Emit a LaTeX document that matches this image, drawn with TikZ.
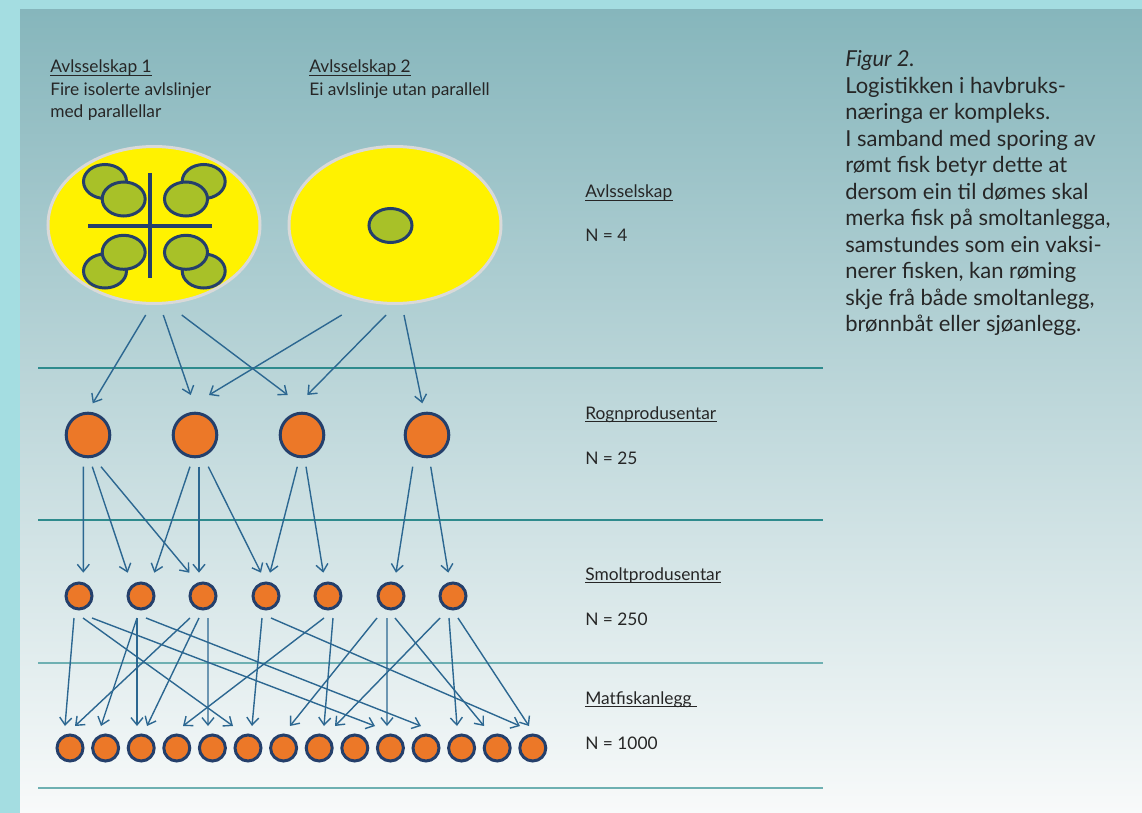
\documentclass[tikz,border=0pt]{standalone}
\usepackage{fontspec}
\setmainfont{Lato}
\usetikzlibrary{calc,arrows.meta,shapes.geometric}
\definecolor{outerbg}{HTML}{A4DDE1}
\definecolor{paneltop}{HTML}{86B6BC}
\definecolor{panelbot}{HTML}{F8FAFA}
\definecolor{sepdark}{HTML}{2E8B8D}
\definecolor{seplight}{HTML}{6EB0B2}
\definecolor{arrowblue}{HTML}{2C6791}
\definecolor{navy}{HTML}{243F6B}
\definecolor{orangefill}{HTML}{EC7828}
\definecolor{olivefill}{HTML}{A8C128}
\definecolor{ellborder}{HTML}{D9D9D9}
\definecolor{txt}{HTML}{262626}
\newcommand\smarrow[4]{\draw[arr] ($(s#1)+(#2,22)$) -- ($(m#3)+(#4,-22)$);}
\begin{document}
\begin{tikzpicture}[x=0.75pt,y=-0.75pt,
  arr/.style={draw=arrowblue, line width=1.05pt, -{Straight Barb[length=5.5pt,width=9pt]}},
  big/.style={ellipse, draw=ellborder, line width=2.25pt, fill=yellow, minimum width=159pt, minimum height=117.75pt, inner sep=0},
  egg/.style={ellipse, draw=navy, line width=2.25pt, fill=olivefill, minimum width=32.25pt, minimum height=25.5pt, inner sep=0},
  rogn/.style={circle, draw=navy, line width=2.25pt, fill=orangefill, minimum size=32.7pt, inner sep=0},
  dot/.style={circle, draw=navy, line width=2.25pt, fill=orangefill, minimum size=19.5pt, inner sep=0},
  toplbl/.style={anchor=base west, inner sep=0, text=txt, font=\fontsize{13pt}{15pt}\selectfont},
  lbl/.style={anchor=base west, inner sep=0, text=txt, font=\fontsize{13pt}{15pt}\selectfont},
  captxt/.style={anchor=base west, inner sep=0, text=txt, font=\fontsize{16.5pt}{19pt}\selectfont},
  uline/.style={draw=txt, line width=0.9pt},
  sepline/.style={line width=1.1pt}
]
\useasboundingbox (0,0) rectangle (1142,813);
\fill[outerbg] (0,0) rectangle (1142,813);
\shade[top color=paneltop, bottom color=panelbot] (20,10) rectangle (1142,813);

% separators
\draw[sepline, sepdark] (38,368) -- (823,368);
\draw[sepline, sepdark] (38,520) -- (823,520);
\draw[sepline, seplight] (38,663) -- (823,663);
\draw[sepline, seplight] (38,788) -- (823,788);

% breeding companies
\node[big] (e1) at (154,225) {};
\node[big] (e2) at (395,225) {};
\node[egg] (b1) at (105,181.5) {};
\node[egg] (b2) at (203.7,181.5) {};
\node[egg] (b3) at (105,271) {};
\node[egg] (b4) at (203.7,271) {};
\node[egg] (f1) at (123.7,199) {};
\node[egg] (f2) at (186,199) {};
\node[egg] (f3) at (123.7,252.3) {};
\node[egg] (f4) at (186,252.3) {};
\draw[navy, line width=3pt] (150,173) -- (150,278);
\draw[navy, line width=3pt] (88,226) -- (212,226);
\node[egg] (g1) at (390.5,225.5) {};

% roe producers
\node[rogn] (r1) at (88,435) {};
\node[rogn] (r2) at (195,435) {};
\node[rogn] (r3) at (302,435) {};
\node[rogn] (r4) at (427,435) {};

% smolt producers
\foreach \x [count=\i] in {79,141,203,266,328,391,453}
  \node[dot] (s\i) at (\x,596) {};

% food fish farms
\foreach \i in {1,...,14}
  \node[dot] (m\i) at ({70+35.6*(\i-1)},748) {};

% arrows breeding -> roe
\draw[arr] ($(e1)+(-8.3,90)$) -- ($(r1)+(4.7,-31.7)$);
\draw[arr] ($(e1)+(9.3,90)$) -- ($(r2)+(-4.3,-40)$);
\draw[arr] ($(e1)+(27.7,90)$) -- ($(r3)+(-14.3,-40)$);
\draw[arr] ($(e2)+(-53.3,90)$) -- ($(r2)+(14,-40)$);
\draw[arr] ($(e2)+(-9,90)$) -- ($(r3)+(5.3,-40)$);
\draw[arr] ($(e2)+(9,90)$) -- ($(r4)+(-4.7,-31.7)$);

% arrows roe -> smolt
\draw[arr] ($(r1)+(-4.7,31.7)$) -- ($(s1)+(4.3,-23.3)$);
\draw[arr] ($(r1)+(4.3,31.7)$) -- ($(s2)+(-13.3,-23.3)$);
\draw[arr] ($(r1)+(13,31.7)$) -- ($(s3)+(-13.7,-23.3)$);
\draw[arr] ($(r2)+(-5,31.7)$) -- ($(s2)+(13.3,-23.3)$);
\draw[arr] ($(r2)+(4,31.7)$) -- ($(s3)+(-4,-23.3)$);
\draw[arr] ($(r2)+(13.3,31.7)$) -- ($(s4)+(-5,-23.3)$);
\draw[arr] ($(r3)+(-4.7,31.7)$) -- ($(s4)+(4,-23.3)$);
\draw[arr] ($(r3)+(4,31.7)$) -- ($(s5)+(-4.7,-23.3)$);
\draw[arr] ($(r4)+(-14.3,31.7)$) -- ($(s6)+(5,-23.3)$);
\draw[arr] ($(r4)+(3.7,31.7)$) -- ($(s7)+(-4.7,-23.3)$);

% arrows smolt -> food fish
\smarrow{1}{-5}{1}{-5}
\smarrow{1}{4}{6}{-15}
\smarrow{1}{13}{10}{-15.4}
\smarrow{2}{-4}{2}{-4.6}
\smarrow{2}{-4}{3}{-4.2}
\smarrow{2}{5}{11}{-5}
\smarrow{3}{-13}{1}{5}
\smarrow{3}{-4}{3}{5.8}
\smarrow{3}{5}{5}{-4.4}
\smarrow{4}{-4}{6}{4}
\smarrow{4}{5}{14}{-12.8}
\smarrow{5}{-4}{4}{6.2}
\smarrow{5}{5}{8}{4.8}
\smarrow{6}{-14}{7}{6.4}
\smarrow{6}{-4}{10}{-3.4}
\smarrow{6}{4}{13}{-13.2}
\smarrow{7}{-13}{8}{15.8}
\smarrow{7}{-4}{12}{-4.6}
\smarrow{7}{5}{14}{-3.8}

% top-left labels
\node[toplbl] (a1) at (50,73) {Avlsselskap 1};
\draw[uline] ([yshift=-1.8pt]a1.base west) -- ([yshift=-1.8pt]a1.base east);
\node[toplbl] (a1b) at (50,96) {Fire isolerte avlslinjer};
\node[toplbl] (a1c) at (50,118) {med parallellar};
\node[toplbl] (a2) at (309,73) {Avlsselskap 2};
\draw[uline] ([yshift=-1.8pt]a2.base west) -- ([yshift=-1.8pt]a2.base east);
\node[toplbl] (a2b) at (309,96) {Ei avlslinje utan parallell};

% level labels
\node[lbl] (l1) at (585,198) {Avlsselskap};
\draw[uline] ([yshift=-1.8pt]l1.base west) -- ([yshift=-1.8pt]l1.base east);
\node[lbl] (n1) at (585,241.7) {N = 4};
\node[lbl] (l2) at (585,419) {Rognprodusentar};
\draw[uline] ([yshift=-1.8pt]l2.base west) -- ([yshift=-1.8pt]l2.base east);
\node[lbl] (n2) at (585,464.7) {N = 25};
\node[lbl] (l3) at (585,580) {Smoltprodusentar};
\draw[uline] ([yshift=-1.8pt]l3.base west) -- ([yshift=-1.8pt]l3.base east);
\node[lbl] (n3) at (585,625) {N = 250};
\node[lbl] (l4) at (585,704) {Matfiskanlegg};
\draw[uline] ([yshift=-1.8pt]l4.base west) -- ([yshift=-1.8pt,xshift=4pt]l4.base east);
\node[lbl] (n4) at (585,749.6) {N = 1000};

% caption
\node[captxt] (t0) at (845,66.7) {\itshape Figur 2.};
\foreach \t [count=\i] in {{Logistikken i havbruks-},{næringa er kompleks.},{I samband med sporing av},{rømt fisk betyr dette at},{dersom ein til dømes skal},{merka fisk på smoltanlegga,},{samstundes som ein vaksi-},{nerer fisken, kan røming},{skje frå både smoltanlegg,},{brønnbåt eller sjøanlegg.}}
  \node[captxt] (t\i) at (845,{66.7+26.5*\i}) {\t};
\end{tikzpicture}
\end{document}
